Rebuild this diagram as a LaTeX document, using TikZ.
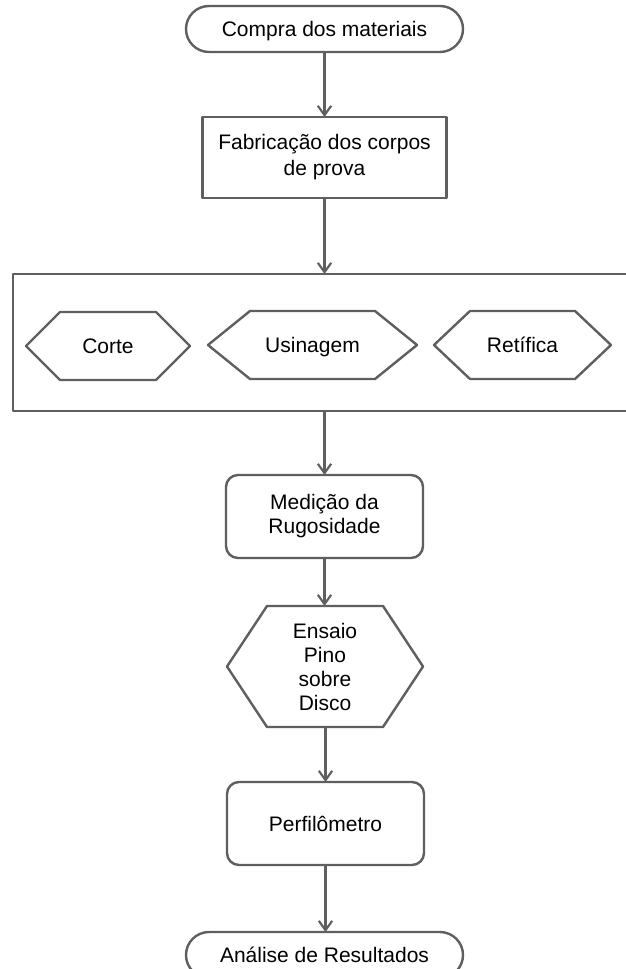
\documentclass[tikz,border=0pt]{standalone}
\usepackage{fontspec}
\setmainfont{Liberation Sans}
\usetikzlibrary{shapes.misc,arrows.meta}
\definecolor{linegray}{RGB}{95,95,95}
\tikzset{
  shapeline/.style={draw=linegray, line width=1.8pt, line join=round},
  lbl/.style={font=\fontsize{15.75pt}{18pt}\selectfont, align=center, text=black, inner sep=0pt, outer sep=0pt},
  oneline/.style={text height=11.3pt, text depth=0pt},
  terminal/.style={lbl, shapeline, rounded rectangle, minimum width=207.75pt, minimum height=34.5pt},
  procbox/.style={lbl, shapeline, rectangle, minimum width=183pt, minimum height=60.75pt},
  roundbox/.style={lbl, shapeline, rectangle, rounded corners=9pt, minimum width=147.75pt, minimum height=62.25pt},
  hexnode/.style={lbl, draw=none, rectangle, minimum height=51pt},
  arr/.style={draw=linegray, line width=1.6pt, -{Straight Barb[length=7pt,width=10pt,line width=1.6pt]}}
}
\newcommand\hexpath[2]{\draw[shapeline] (#1.west) -- ([xshift=#2]#1.north west) -- ([xshift=-#2]#1.north east) -- (#1.east) -- ([xshift=-#2]#1.south east) -- ([xshift=#2]#1.south west) -- cycle;}
\begin{document}
\begin{tikzpicture}[x=0.75pt,y=-0.75pt]
\useasboundingbox (0,0) rectangle (625,969);
\fill[white] (0,0) rectangle (625,969);

\node[terminal, oneline] (compra) at (324.5,29) {Compra dos materiais};
\node[procbox, font=\fontsize{15.75pt}{19.5pt}\selectfont] (fab) at (324.5,157.5) {Fabrica\c{c}\~ao dos corpos\\de prova};
\node[shapeline, rectangle, minimum width=470.25pt, minimum height=102.75pt, inner sep=0pt, outer sep=0pt] (group) at (326.5,342.5) {};

\node[hexnode, oneline, minimum width=123pt] (corte) at (108,346) {Corte};
\hexpath{corte}{25.5pt}
\node[hexnode, oneline, minimum width=156.75pt] (usin) at (312.5,345) {Usinagem};
\hexpath{usin}{31.5pt}
\node[hexnode, oneline, minimum width=132.75pt] (retif) at (522.5,345) {Ret\'ifica};
\hexpath{retif}{27pt}

\node[roundbox] (medicao) at (324.5,516.5) {Medi\c{c}\~ao da\\Rugosidade};
\node[hexnode, minimum width=147pt, minimum height=90.75pt] (ensaio) at (325,666.5) {Ensaio\\Pino\\sobre\\Disco};
\hexpath{ensaio}{30pt}
\node[roundbox, oneline] (perfil) at (325.5,823.5) {Perfil\^ometro};
\node[terminal, oneline] (analise) at (324.5,955) {An\'alise de Resultados};

\draw[arr] (compra.south) -- (fab.north);
\draw[arr] (fab.south) -- (fab.south |- group.north);
\draw[arr] (group.south -| medicao.north) -- (medicao.north);
\draw[arr] (medicao.south) -- (medicao.south |- ensaio.north);
\draw[arr] (ensaio.south -| perfil.north) -- (perfil.north);
\draw[arr] (perfil.south) -- (perfil.south |- analise.north);
\end{tikzpicture}
\end{document}
